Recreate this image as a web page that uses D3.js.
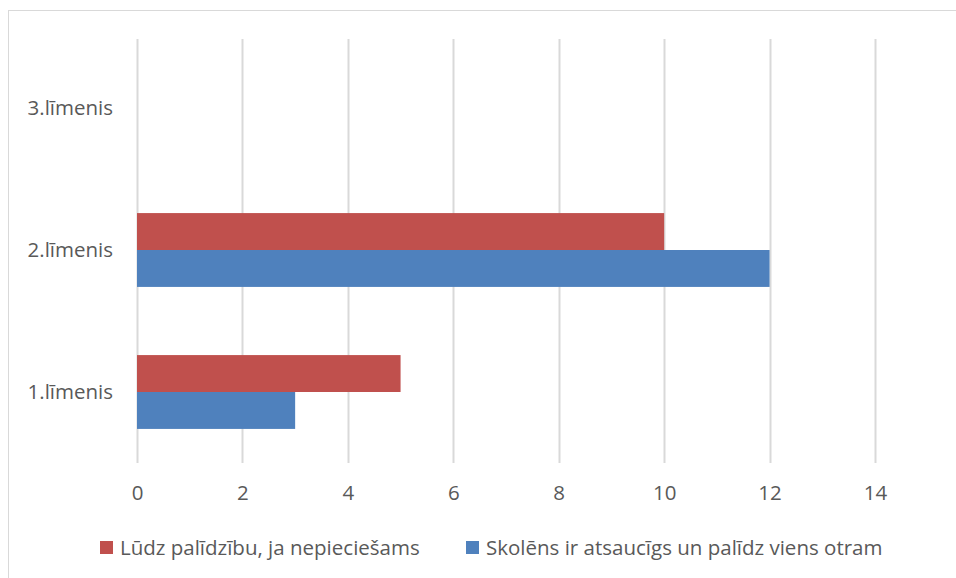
<!DOCTYPE html>
<html><head><meta charset="utf-8">
<script src="https://cdn.jsdelivr.net/npm/d3@7"></script>
<style>body{margin:0;background:#fff}svg{display:block}text{font-family:"Open Sans",sans-serif;fill:#595959}</style>
</head><body><svg id="c" width="956" height="578"></svg>
<script>
const categories = ["3.līmenis", "2.līmenis", "1.līmenis"];
const seriesNames = ["Lūdz palīdzību, ja nepieciešams", "Skolēns ir atsaucīgs un palīdz viens otram"];
const seriesRed = [0, 10, 5];
const seriesBlue = [0, 12, 3];
const xTicks = [0, 2, 4, 6, 8, 10, 12, 14];
const colors = ["#c0504d", "#4f81bd"];
const fs = "20.5px";

const svg = d3.select("#c");
svg.append("rect").attr("x", 8.5).attr("y", 10.5).attr("width", 960).attr("height", 600)
  .attr("fill", "none").attr("stroke", "#d9d9d9");

const x = d3.scaleLinear().domain([0, 14]).range([137, 875]);
const y = d3.scaleBand().domain(categories).range([37, 463]).paddingInner(0.48).paddingOuter(0.24);
const ys = d3.scaleBand().domain([0, 1]).range([0, y.bandwidth()]);

svg.append("g").selectAll("line").data(xTicks).join("line")
  .attr("x1", d => Math.round(x(d)) + 0.5).attr("x2", d => Math.round(x(d)) + 0.5)
  .attr("y1", 39).attr("y2", 463).attr("stroke", "#d9d9d9").attr("stroke-width", 2);

const data = [seriesRed, seriesBlue];
data.forEach((vals, si) => {
  svg.append("g").selectAll("rect").data(categories).join("rect")
    .attr("x", x(0)).attr("y", c => y(c) + ys(si))
    .attr("width", (c, i) => x(vals[i]) - x(0)).attr("height", ys.bandwidth())
    .attr("fill", colors[si]);
});

const xa = svg.append("g").attr("transform", "translate(0,493)")
  .call(d3.axisBottom(x).tickValues(xTicks).tickSize(0).tickPadding(0));
xa.select(".domain").remove();
xa.selectAll("text").attr("dy", "0.35em").style("font-size", fs).attr("fill", "#595959");

const ya = svg.append("g").attr("transform", "translate(113,0)")
  .call(d3.axisLeft(y).tickSize(0).tickPadding(0));
ya.select(".domain").remove();
ya.selectAll("text").attr("dy", "0.35em").style("font-size", fs).attr("fill", "#595959");

const leg = [{x: 100, tx: 120}, {x: 466, tx: 486}];
seriesNames.forEach((n, i) => {
  svg.append("rect").attr("x", leg[i].x).attr("y", 541).attr("width", 13).attr("height", 13).attr("fill", colors[i]);
  svg.append("text").attr("x", leg[i].tx).attr("y", 548).attr("dy", "0.35em").style("font-size", fs).text(n);
});
</script></body></html>
